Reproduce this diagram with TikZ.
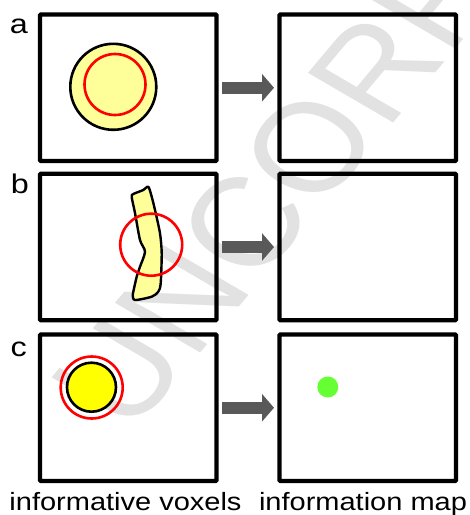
\documentclass[tikz,border=0pt]{standalone}
\usepackage{fontspec}
\setmainfont{Liberation Sans}
\usetikzlibrary{arrows.meta}
\definecolor{paleyellow}{RGB}{255,255,153}
\definecolor{brightyellow}{RGB}{255,255,0}
\definecolor{mapgreen}{RGB}{102,255,51}
\definecolor{arrowgray}{RGB}{89,89,89}
\definecolor{wmgray}{RGB}{226,226,226}
\begin{document}
\begin{tikzpicture}[x=1pt,y=-1pt,
  panel/.style={draw=black, line width=4.3pt, rounded corners=0.8pt, minimum width=176.5pt, minimum height=146.5pt, inner sep=0pt},
  flow/.style={draw=arrowgray, line width=12pt, -{Triangle[length=12pt,width=27pt]}, shorten <=3.35pt, shorten >=3.35pt},
  lbl/.style={font=\fontsize{27}{27}\selectfont, xscale=1.2, inner sep=0pt, anchor=base},
  captext/.style={font=\fontsize{25}{25}\selectfont, xscale=1.16, inner sep=0pt, anchor=base},
  ring/.style={circle, draw=red, line width=2.6pt, inner sep=0pt},
  blob/.style={circle, draw=black, line width=2.6pt, inner sep=0pt},
]
\useasboundingbox (0,0) rectangle (470,515);
% watermark
\begin{scope}
  \clip (0,0) rectangle (470,515);
  \begin{scope}[xscale=1.2, transform shape]
    \node[font=\fontsize{126}{126}\selectfont, text=wmgray, rotate=55, anchor=base west, inner sep=0pt] (wm) at (108.8,436) {UNCORR};
  \end{scope}
\end{scope}
% panels
\node[panel] (la) at (128.25,87.75) {};
\node[panel] (ra) at (367.75,87.75) {};
\node[panel] (lb) at (128.25,247) {};
\node[panel] (rb) at (367.75,247) {};
\node[panel] (lc) at (128.25,407.75) {};
\node[panel] (rc) at (367.75,407.75) {};
% row a
\node[blob, fill=paleyellow, minimum size=86pt] (blobA) at (113.3,86.8) {};
\node[ring, minimum size=61pt] (ringA) at (115,84.5) {};
% row b
\draw[line width=2.4pt, fill=paleyellow, line join=round]
  plot[smooth cycle, tension=0.45] coordinates {
   (133.3,194) (143.3,190) (148.3,186.7) (151.7,196.7) (155,210) (160,233.3)
   (161.7,253.3) (160.7,283.3) (158.3,291.7) (151.7,296.7) (135,300) (132.7,295)
   (133.3,291.7) (136.7,276.7) (140,266.7) (145,251.7) (140,240) (135,213) (131.7,197)};
\node[ring, minimum size=62pt] (ringB) at (151.2,244.7) {};
% row c
\node[blob, fill=brightyellow, minimum size=49pt] (blobC) at (91.5,387.2) {};
\node[ring, minimum size=62pt] (ringC) at (91.7,387.5) {};
\node[circle, fill=mapgreen, minimum size=21pt, inner sep=0pt] (dot) at (327.8,387) {};
% arrows
\draw[flow] (la) -- (ra);
\draw[flow] (lb) -- (rb);
\draw[flow] (lc) -- (rc);
% labels
\node[lbl] (tA) at (19,33.3) {a};
\node[lbl] (tB) at (20,193.3) {b};
\node[lbl] (tC) at (18.8,356.7) {c};
\node[captext] (capL) at (125.5,510.7) {informative voxels};
\node[captext] (capR) at (363,510.7) {information map};
\end{tikzpicture}
\end{document}
